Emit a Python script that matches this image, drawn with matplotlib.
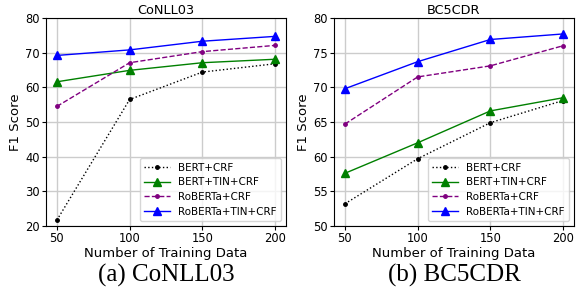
import matplotlib.pyplot as plt
import numpy as np

train_sizes = [50, 100, 150, 200]
labels = ['BERT+CRF', 'BERT+TIN+CRF', 'RoBERTa+CRF', 'RoBERTa+TIN+CRF']

# CoNLL03
conll_bert = [21.7, 56.5, 64.4, 66.8]
conll_bert_tin = [61.6, 64.9, 67.1, 68.1]
conll_roberta = [54.5, 67.1, 70.3, 72.1]
conll_roberta_tin = [69.2, 70.8, 73.3, 74.7]

# BC5CDR
bc5_bert = [53.2, 59.7, 64.9, 68.1]
bc5_bert_tin = [57.6, 62.0, 66.6, 68.5]
bc5_roberta = [64.7, 71.5, 73.1, 76.0]
bc5_roberta_tin = [69.8, 73.7, 76.9, 77.7]

styles = [dict(color='black', linestyle=':', marker='o', markersize=2.5),
          dict(color='green', linestyle='-', marker='^', markersize=5.5),
          dict(color='purple', linestyle='--', marker='o', markersize=2.5),
          dict(color='blue', linestyle='-', marker='^', markersize=5.5)]

fig = plt.figure(figsize=(5.78, 2.89), dpi=100)

def draw(ax, series, title, ylim, yticks, caption):
    for vals, lab, st in zip(series, labels, styles):
        ax.plot(train_sizes, vals, label=lab, linewidth=1, **st)
    ax.set_title(title, fontsize=9.3, pad=3)
    ax.set_xlabel('Number of Training Data', fontsize=9.5, labelpad=1)
    ax.set_ylabel('F1 Score', fontsize=9.5, labelpad=2)
    ax.set_ylim(*ylim)
    ax.set_yticks(yticks)
    ax.set_xticks(train_sizes)
    ax.tick_params(labelsize=8.3, length=3, pad=1.5)
    ax.grid(True, color='#cccccc', linewidth=1)
    ax.set_axisbelow(True)
    ax.legend(loc='lower right', fontsize=7.5, handlelength=2.5,
              borderpad=0.4, labelspacing=0.45, handletextpad=0.8)
    ax.text(0.5, -0.18, caption, transform=ax.transAxes, ha='center', va='top',
            fontsize=18, family='Liberation Serif')

ax1 = fig.add_axes([46/578, 1-226/289, 240/578, 208/289])
draw(ax1, [conll_bert, conll_bert_tin, conll_roberta, conll_roberta_tin],
     'CoNLL03', (20, 80), range(20, 81, 10), '(a) CoNLL03')

ax2 = fig.add_axes([334/578, 1-226/289, 240/578, 208/289])
draw(ax2, [bc5_bert, bc5_bert_tin, bc5_roberta, bc5_roberta_tin],
     'BC5CDR', (50, 80), range(50, 81, 5), '(b) BC5CDR')

fig.savefig('out.png', dpi=100)
